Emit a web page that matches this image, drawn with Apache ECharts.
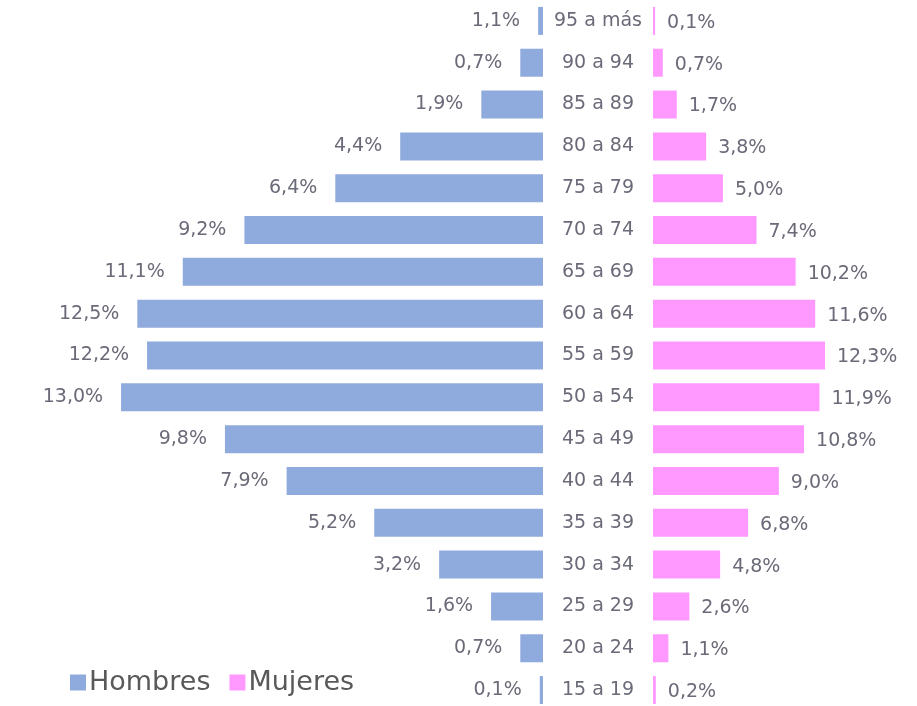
<!DOCTYPE html>
<html>
<head>
<meta charset="utf-8">
<title>Pirámide</title>
<script src="https://cdn.jsdelivr.net/npm/echarts@6/dist/echarts.min.js"></script>
<style>
  html, body { margin: 0; padding: 0; background: #fff; }
  #chart { width: 917px; height: 706px; }
</style>
</head>
<body>
<div id="chart"></div>
<script>
// grupos de edad, de arriba hacia abajo
const grupos = ["95 a más", "90 a 94", "85 a 89", "80 a 84", "75 a 79", "70 a 74", "65 a 69",
  "60 a 64", "55 a 59", "50 a 54", "45 a 49", "40 a 44", "35 a 39", "30 a 34",
  "25 a 29", "20 a 24", "15 a 19"];

// largo de barras (%)
const hombres = [0.15, 0.7, 1.9, 4.4, 6.4, 9.2, 11.1, 12.5, 12.2, 13.0, 9.8, 7.9, 5.2, 3.2, 1.6, 0.7, 0.1];
const mujeres = [0.15, 0.7, 1.7, 3.8, 5.0, 7.4, 10.2, 11.6, 12.3, 11.9, 10.8, 9.0, 6.8, 4.8, 2.6, 1.1, 0.2];

// etiquetas tal como aparecen
const hombresTxt = ["1,1%", "0,7%", "1,9%", "4,4%", "6,4%", "9,2%", "11,1%", "12,5%", "12,2%", "13,0%",
  "9,8%", "7,9%", "5,2%", "3,2%", "1,6%", "0,7%", "0,1%"];
const mujeresTxt = ["0,1%", "0,7%", "1,7%", "3,8%", "5,0%", "7,4%", "10,2%", "11,6%", "12,3%", "11,9%",
  "10,8%", "9,0%", "6,8%", "4,8%", "2,6%", "1,1%", "0,2%"];

const chart = echarts.init(document.getElementById("chart"));
const fuente = "DejaVu Sans";
const gris = "#6a6a78";

const option = {
  animation: false,
  legend: {
    left: 65,
    top: 664,
    icon: "rect",
    itemWidth: 16,
    itemHeight: 16,
    itemGap: 19,
    textStyle: { fontFamily: fuente, fontSize: 27, color: "#595959", padding: [0, 0, 0, -2] },
    data: ["Hombres", "Mujeres"]
  },
  grid: [
    { left: 100, width: 443, top: 0, height: 711, outerBoundsMode: "none" },
    { left: 653, width: 200, top: 0, height: 711, outerBoundsMode: "none" }
  ],
  xAxis: [
    { gridIndex: 0, type: "value", min: 0, max: 13.65, inverse: true, show: false },
    { gridIndex: 1, type: "value", min: 0, max: 14.3, show: false }
  ],
  yAxis: [
    {
      gridIndex: 0, type: "category", data: grupos, inverse: true, position: "right",
      axisLine: { show: false }, axisTick: { show: false },
      axisLabel: { margin: 55, align: "center", fontFamily: fuente, fontSize: 19, color: gris }
    },
    {
      gridIndex: 1, type: "category", data: grupos, inverse: true, show: false
    }
  ],
  series: [
    {
      name: "Hombres", type: "bar", xAxisIndex: 0, yAxisIndex: 0,
      data: hombres, barWidth: 28,
      itemStyle: { color: "#8faadc" },
      label: {
        show: true, position: "left", distance: 18,
        fontFamily: fuente, fontSize: 19, color: gris,
        formatter: (p) => hombresTxt[p.dataIndex]
      }
    },
    {
      name: "Mujeres", type: "bar", xAxisIndex: 1, yAxisIndex: 1,
      data: mujeres, barWidth: 28,
      itemStyle: { color: "#ff99ff" },
      label: {
        show: true, position: "right", distance: 12, offset: [0, 2],
        fontFamily: fuente, fontSize: 19, color: gris,
        formatter: (p) => mujeresTxt[p.dataIndex]
      }
    }
  ]
};

chart.setOption(option);
</script>
</body>
</html>
